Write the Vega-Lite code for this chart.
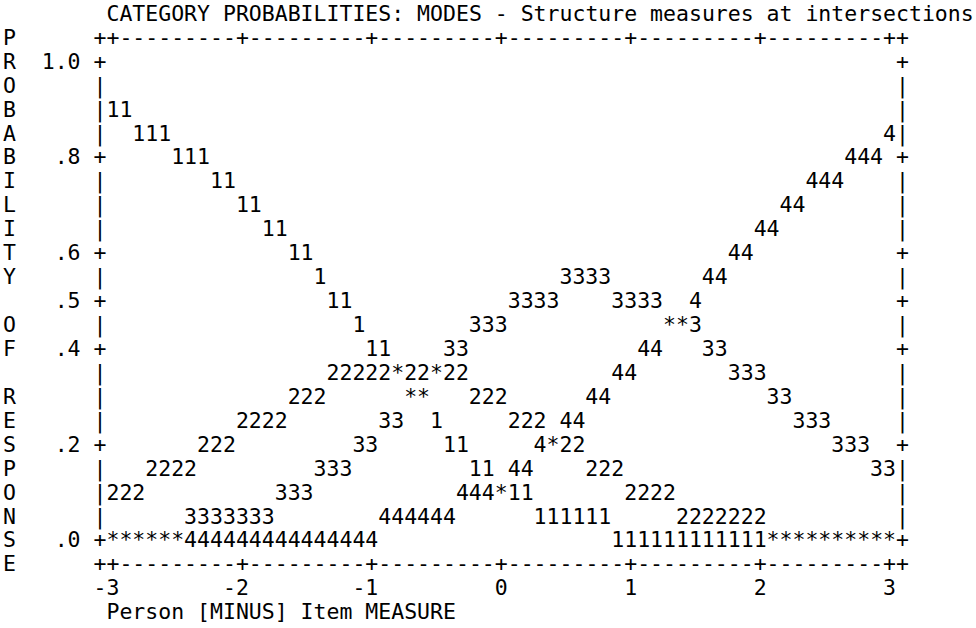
{
  "$schema": "https://vega.github.io/schema/vega-lite/v6.json",
  "width": 976,
  "height": 628,
  "autosize": {"type": "fit", "contains": "padding"},
  "padding": 0,
  "background": "white",
  "config": {"view": {"stroke": null}},
  "data": {"values": [
    {"row": 0, "col": 8, "text": "CATEGORY PROBABILITIES: MODES - Structure measures at intersections"},
    {"row": 1, "col": 0, "text": "P"},
    {"row": 1, "col": 7, "text": "++---------+---------+---------+---------+---------+---------++"},
    {"row": 2, "col": 0, "text": "R"},
    {"row": 2, "col": 3, "text": "1.0"},
    {"row": 2, "col": 7, "text": "+"},
    {"row": 2, "col": 69, "text": "+"},
    {"row": 3, "col": 0, "text": "O"},
    {"row": 3, "col": 7, "text": "|"},
    {"row": 3, "col": 69, "text": "|"},
    {"row": 4, "col": 0, "text": "B"},
    {"row": 4, "col": 7, "text": "|11"},
    {"row": 4, "col": 69, "text": "|"},
    {"row": 5, "col": 0, "text": "A"},
    {"row": 5, "col": 7, "text": "|"},
    {"row": 5, "col": 10, "text": "111"},
    {"row": 5, "col": 68, "text": "4|"},
    {"row": 6, "col": 0, "text": "B"},
    {"row": 6, "col": 4, "text": ".8"},
    {"row": 6, "col": 7, "text": "+"},
    {"row": 6, "col": 13, "text": "111"},
    {"row": 6, "col": 65, "text": "444"},
    {"row": 6, "col": 69, "text": "+"},
    {"row": 7, "col": 0, "text": "I"},
    {"row": 7, "col": 7, "text": "|"},
    {"row": 7, "col": 16, "text": "11"},
    {"row": 7, "col": 62, "text": "444"},
    {"row": 7, "col": 69, "text": "|"},
    {"row": 8, "col": 0, "text": "L"},
    {"row": 8, "col": 7, "text": "|"},
    {"row": 8, "col": 18, "text": "11"},
    {"row": 8, "col": 60, "text": "44"},
    {"row": 8, "col": 69, "text": "|"},
    {"row": 9, "col": 0, "text": "I"},
    {"row": 9, "col": 7, "text": "|"},
    {"row": 9, "col": 20, "text": "11"},
    {"row": 9, "col": 58, "text": "44"},
    {"row": 9, "col": 69, "text": "|"},
    {"row": 10, "col": 0, "text": "T"},
    {"row": 10, "col": 4, "text": ".6"},
    {"row": 10, "col": 7, "text": "+"},
    {"row": 10, "col": 22, "text": "11"},
    {"row": 10, "col": 56, "text": "44"},
    {"row": 10, "col": 69, "text": "+"},
    {"row": 11, "col": 0, "text": "Y"},
    {"row": 11, "col": 7, "text": "|"},
    {"row": 11, "col": 24, "text": "1"},
    {"row": 11, "col": 43, "text": "3333"},
    {"row": 11, "col": 54, "text": "44"},
    {"row": 11, "col": 69, "text": "|"},
    {"row": 12, "col": 4, "text": ".5"},
    {"row": 12, "col": 7, "text": "+"},
    {"row": 12, "col": 25, "text": "11"},
    {"row": 12, "col": 39, "text": "3333"},
    {"row": 12, "col": 47, "text": "3333"},
    {"row": 12, "col": 53, "text": "4"},
    {"row": 12, "col": 69, "text": "+"},
    {"row": 13, "col": 0, "text": "O"},
    {"row": 13, "col": 7, "text": "|"},
    {"row": 13, "col": 27, "text": "1"},
    {"row": 13, "col": 36, "text": "333"},
    {"row": 13, "col": 51, "text": "**3"},
    {"row": 13, "col": 69, "text": "|"},
    {"row": 14, "col": 0, "text": "F"},
    {"row": 14, "col": 4, "text": ".4"},
    {"row": 14, "col": 7, "text": "+"},
    {"row": 14, "col": 28, "text": "11"},
    {"row": 14, "col": 34, "text": "33"},
    {"row": 14, "col": 49, "text": "44"},
    {"row": 14, "col": 54, "text": "33"},
    {"row": 14, "col": 69, "text": "+"},
    {"row": 15, "col": 7, "text": "|"},
    {"row": 15, "col": 25, "text": "22222*22*22"},
    {"row": 15, "col": 47, "text": "44"},
    {"row": 15, "col": 56, "text": "333"},
    {"row": 15, "col": 69, "text": "|"},
    {"row": 16, "col": 0, "text": "R"},
    {"row": 16, "col": 7, "text": "|"},
    {"row": 16, "col": 22, "text": "222"},
    {"row": 16, "col": 31, "text": "**"},
    {"row": 16, "col": 36, "text": "222"},
    {"row": 16, "col": 45, "text": "44"},
    {"row": 16, "col": 59, "text": "33"},
    {"row": 16, "col": 69, "text": "|"},
    {"row": 17, "col": 0, "text": "E"},
    {"row": 17, "col": 7, "text": "|"},
    {"row": 17, "col": 18, "text": "2222"},
    {"row": 17, "col": 29, "text": "33"},
    {"row": 17, "col": 33, "text": "1"},
    {"row": 17, "col": 39, "text": "222"},
    {"row": 17, "col": 43, "text": "44"},
    {"row": 17, "col": 61, "text": "333"},
    {"row": 17, "col": 69, "text": "|"},
    {"row": 18, "col": 0, "text": "S"},
    {"row": 18, "col": 4, "text": ".2"},
    {"row": 18, "col": 7, "text": "+"},
    {"row": 18, "col": 15, "text": "222"},
    {"row": 18, "col": 27, "text": "33"},
    {"row": 18, "col": 34, "text": "11"},
    {"row": 18, "col": 41, "text": "4*22"},
    {"row": 18, "col": 64, "text": "333"},
    {"row": 18, "col": 69, "text": "+"},
    {"row": 19, "col": 0, "text": "P"},
    {"row": 19, "col": 7, "text": "|"},
    {"row": 19, "col": 11, "text": "2222"},
    {"row": 19, "col": 24, "text": "333"},
    {"row": 19, "col": 36, "text": "11"},
    {"row": 19, "col": 39, "text": "44"},
    {"row": 19, "col": 45, "text": "222"},
    {"row": 19, "col": 67, "text": "33|"},
    {"row": 20, "col": 0, "text": "O"},
    {"row": 20, "col": 7, "text": "|222"},
    {"row": 20, "col": 21, "text": "333"},
    {"row": 20, "col": 35, "text": "444*11"},
    {"row": 20, "col": 48, "text": "2222"},
    {"row": 20, "col": 69, "text": "|"},
    {"row": 21, "col": 0, "text": "N"},
    {"row": 21, "col": 7, "text": "|"},
    {"row": 21, "col": 14, "text": "3333333"},
    {"row": 21, "col": 29, "text": "444444"},
    {"row": 21, "col": 41, "text": "111111"},
    {"row": 21, "col": 52, "text": "2222222"},
    {"row": 21, "col": 69, "text": "|"},
    {"row": 22, "col": 0, "text": "S"},
    {"row": 22, "col": 4, "text": ".0"},
    {"row": 22, "col": 7, "text": "+******444444444444444"},
    {"row": 22, "col": 47, "text": "111111111111**********+"},
    {"row": 23, "col": 0, "text": "E"},
    {"row": 23, "col": 7, "text": "++---------+---------+---------+---------+---------+---------++"},
    {"row": 24, "col": 7, "text": "-3"},
    {"row": 24, "col": 17, "text": "-2"},
    {"row": 24, "col": 27, "text": "-1"},
    {"row": 24, "col": 38, "text": "0"},
    {"row": 24, "col": 48, "text": "1"},
    {"row": 24, "col": 58, "text": "2"},
    {"row": 24, "col": 68, "text": "3"},
    {"row": 25, "col": 8, "text": "Person [MINUS] Item MEASURE"}
  ]},
  "mark": {
    "type": "text",
    "align": "left",
    "baseline": "alphabetic",
    "font": "DejaVu Sans Mono",
    "fontSize": 21.5,
    "color": "#000000"
  },
  "encoding": {
    "x": {"field": "col", "type": "quantitative", "scale": {"domain": [-0.224, 75.18], "nice": false, "zero": false}, "axis": null},
    "y": {"field": "row", "type": "quantitative", "scale": {"domain": [-0.869, 25.363], "nice": false, "zero": false, "reverse": true}, "axis": null},
    "text": {"field": "text"}
  }
}
